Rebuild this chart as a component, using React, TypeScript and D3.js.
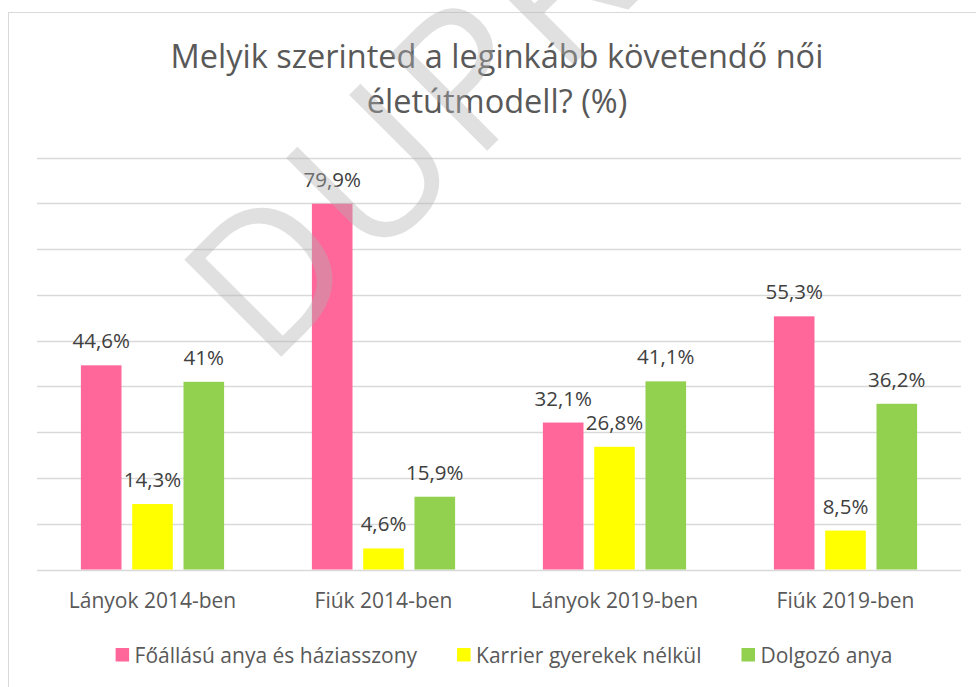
import React, { useEffect, useRef } from 'react';
import * as d3 from 'd3';

const categories = ['Lányok 2014-ben', 'Fiúk 2014-ben', 'Lányok 2019-ben', 'Fiúk 2019-ben'];
const seriesNames = ['Főállású anya és háziasszony', 'Karrier gyerekek nélkül', 'Dolgozó anya'];
const foallasuValues = [44.6, 79.9, 32.1, 55.3];
const karrierValues = [14.3, 4.6, 26.8, 8.5];
const dolgozoValues = [41, 15.9, 41.1, 36.2];
const seriesColors = ['#FF6699', '#FFFF00', '#92D050'];
const yTicks = [0, 10, 20, 30, 40, 50, 60, 70, 80, 90];
const titleLines = ['Melyik szerinted a leginkább követendő női', 'életútmodell? (%)'];
const watermarkText = 'DUPRESS';

const seriesValues = [foallasuValues, karrierValues, dolgozoValues];
const FONT = '"Open Sans", sans-serif';

export default function App() {
  const ref = useRef<SVGSVGElement | null>(null);

  useEffect(() => {
    const svg = d3.select(ref.current);
    svg.selectAll('*').remove();

    // chart frame
    svg.append('rect')
      .attr('x', 8.5).attr('y', 12.5).attr('width', 1200).attr('height', 1200)
      .attr('fill', '#ffffff').attr('stroke', '#D9D9D9').attr('stroke-width', 1);

    const x0 = d3.scaleBand<string>().domain(categories).range([37, 961]).padding(0);
    const x1 = d3.scaleBand<string>().domain(seriesNames).range([43.9, 187.1]).paddingInner(0.2086).paddingOuter(0);
    const y = d3.scaleLinear().domain([0, 90]).range([569.5, 157.5]);

    // title
    const title = svg.append('text')
      .attr('x', 497).attr('text-anchor', 'middle')
      .attr('font-family', FONT).attr('font-size', 32.5).attr('font-weight', 400)
      .attr('fill', '#595959');
    title.selectAll('tspan').data(titleLines).join('tspan')
      .attr('x', 497).attr('y', (_d, i) => 68 + i * 45)
      .text(d => d);

    // gridlines
    svg.append('g').selectAll('line').data(yTicks).join('line')
      .attr('x1', 37).attr('x2', 961)
      .attr('y1', d => Math.round(y(d)) + 0.5).attr('y2', d => Math.round(y(d)) + 0.5)
      .attr('stroke', '#D9D9D9').attr('stroke-width', 1.3);

    // bars
    const groups = svg.append('g').selectAll('g').data(categories).join('g')
      .attr('transform', d => `translate(${x0(d)},0)`);

    const fmt = (v: number) => String(v).replace('.', ',') + '%';

    groups.each(function (cat, ci) {
      const g = d3.select(this);
      seriesNames.forEach((s, si) => {
        const v = seriesValues[si][ci];
        g.append('rect')
          .attr('x', x1(s)!).attr('width', x1.bandwidth())
          .attr('y', y(v)).attr('height', y(0) - y(v))
          .attr('fill', seriesColors[si]);
        g.append('text')
          .attr('x', x1(s)! + x1.bandwidth() / 2).attr('y', y(v) - 17)
          .attr('text-anchor', 'middle')
          .attr('font-family', FONT).attr('font-size', 20.5)
          .attr('fill', '#404040')
          .text(fmt(v));
      });
    });

    // category axis labels
    svg.append('g').selectAll('text').data(categories).join('text')
      .attr('x', d => x0(d)! + x0.bandwidth() / 2).attr('y', 608)
      .attr('text-anchor', 'middle')
      .attr('font-family', FONT).attr('font-size', 21)
      .attr('fill', '#595959')
      .text(d => d);

    // legend
    const legend = svg.append('g');
    const items = legend.selectAll('g').data(seriesNames).join('g');
    items.append('rect')
      .attr('width', 13.5).attr('height', 13.5).attr('y', 648)
      .attr('fill', (_d, i) => seriesColors[i]);
    items.append('text')
      .attr('x', 19).attr('y', 663)
      .attr('font-family', FONT).attr('font-size', 21)
      .attr('fill', '#595959')
      .text(d => d);
    const widths: number[] = [];
    items.each(function () {
      const t = d3.select(this).select('text').node() as SVGTextElement;
      widths.push(19 + t.getComputedTextLength());
    });
    const gap = 40;
    const total = d3.sum(widths) + gap * (widths.length - 1);
    let cx = 504 - total / 2;
    items.each(function (_d, i) {
      d3.select(this).attr('transform', `translate(${cx},0)`);
      cx += widths[i] + gap;
    });

    // watermark
    svg.append('text')
      .attr('transform', 'translate(268,370) rotate(-45)')
      .attr('font-family', FONT).attr('font-size', 192)
      .attr('letter-spacing', 6)
      .attr('fill', '#B2B2B2').attr('fill-opacity', 0.4)
      .text(watermarkText);
  }, []);

  return (
    <svg
      ref={ref}
      width={976}
      height={687}
      style={{ position: 'absolute', left: 0, top: 0, display: 'block' }}
    />
  );
}
